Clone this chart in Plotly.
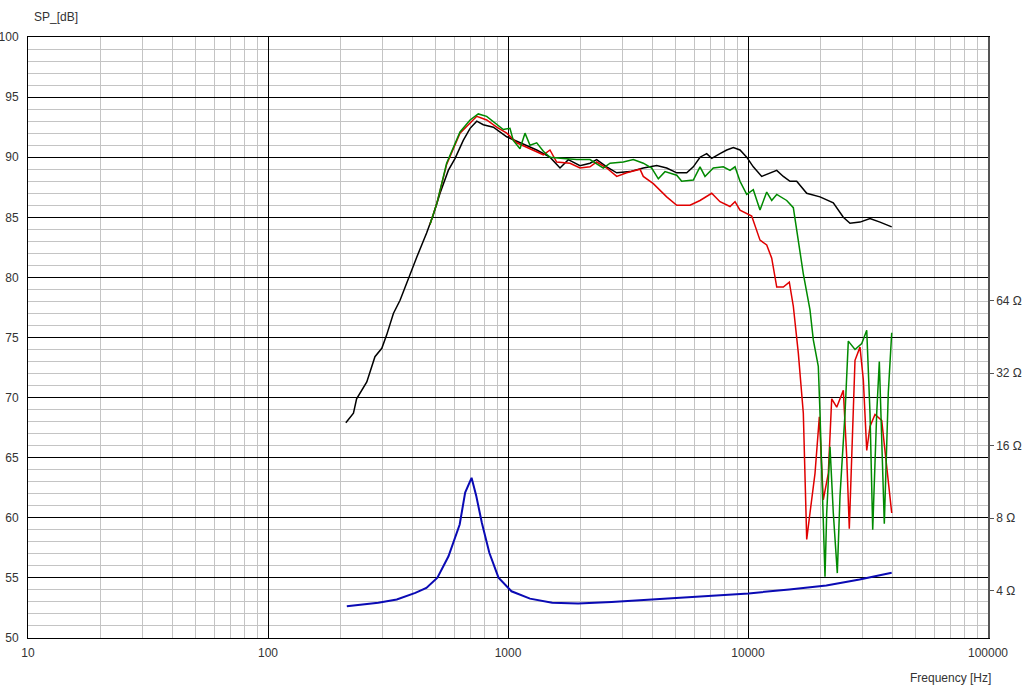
import plotly.graph_objects as go

# ---- data ----
black_f = [211, 227, 234, 258, 279, 298, 312, 333, 355, 384, 417, 458, 488, 521, 564, 602, 651, 695, 741, 789,
           869, 988, 1122, 1317, 1496, 1647, 1784, 1995, 2196, 2342, 2578, 2838, 3224, 3662, 4165, 4584, 5047,
           5554, 5918, 6310, 6728, 7060, 7643, 8153, 8687, 9261, 9876, 10522, 11404, 12353, 13174, 14034, 14962,
           15956, 17564, 19953, 22668, 24956, 26607, 29286, 32240, 35481, 39700]
black_db = [67.9, 68.7, 69.9, 71.3, 73.4, 74.1, 75.2, 77.0, 78.1, 79.9, 81.7, 83.7, 85.2, 87.0, 88.9, 89.9, 91.4,
            92.4, 93.0, 92.7, 92.5, 91.7, 91.2, 90.6, 90.0, 89.1, 89.8, 89.3, 89.5, 89.8, 89.2, 88.7, 88.8, 89.1,
            89.3, 89.1, 88.7, 88.7, 89.2, 90.0, 90.3, 89.9, 90.3, 90.6, 90.8, 90.6, 90.0, 89.2, 88.4, 88.7, 88.9,
            88.4, 88.0, 88.0, 87.0, 86.7, 86.2, 85.0, 84.5, 84.6, 84.9, 84.6, 84.2]

green_f = [473, 506, 555, 631, 695, 752, 815, 897, 956, 1019, 1052, 1122, 1177, 1235, 1317, 1404, 1496, 1700,
           1933, 2196, 2496, 2661, 3023, 3327, 3662, 3970, 4230, 4510, 5047, 5294, 5918, 6310, 6619, 7169, 7891,
           8414, 8829, 9261, 9876, 10522, 11220, 11966, 12555, 13174, 14499, 15446, 16206, 17002, 18126, 18714,
           19630, 19953, 20934, 21280, 21963, 22668, 23557, 24174, 25365, 26179, 27916, 29779, 31240, 32240,
           33083, 34380, 35250, 36070, 36980, 38420, 39700]
green_db = [84.4, 86.2, 89.5, 92.1, 93.1, 93.6, 93.4, 92.7, 92.3, 92.4, 91.4, 90.7, 92.0, 91.0, 91.2, 90.5, 90.0,
            89.9, 89.8, 89.8, 89.1, 89.5, 89.6, 89.8, 89.5, 89.1, 88.2, 88.8, 88.5, 88.0, 88.1, 89.2, 88.4, 89.1,
            89.2, 88.9, 89.2, 88.0, 86.9, 87.3, 85.6, 87.1, 86.4, 86.9, 86.4, 85.8, 83.1, 80.3, 77.3, 74.8, 72.6,
            68.7, 55.1, 60.4, 65.9, 60.4, 55.4, 61.8, 68.7, 74.7, 74.0, 74.5, 75.6, 68.7, 59.0, 68.7, 73.0, 65.4,
            59.5, 70.4, 75.4]

red_f = [473, 506, 555, 631, 741, 815, 897, 988, 1087, 1235, 1404, 1496, 1595, 1813, 1995, 2196, 2342, 2578,
         2838, 3123, 3548, 3662, 4031, 4584, 5047, 5733, 6310, 7060, 7643, 8414, 8829, 9261, 9876, 10361, 11220,
         11966, 12555, 13174, 14034, 14864, 15446, 16206, 17002, 17564, 18126, 19020, 19827, 20592, 21607,
         22325, 23421, 24956, 25780, 26430, 27916, 29286, 30230, 31240, 32240, 33820, 36070, 37840, 39700]
red_db = [84.4, 86.2, 89.4, 92.0, 93.4, 93.1, 92.5, 92.0, 91.2, 90.7, 90.2, 90.6, 89.6, 89.5, 89.1, 89.2, 89.6,
          89.1, 88.4, 88.7, 89.0, 88.4, 87.8, 86.7, 86.0, 86.0, 86.4, 87.0, 86.3, 85.9, 86.3, 85.6, 85.3, 85.1,
          83.1, 82.7, 81.6, 79.2, 79.2, 79.6, 77.6, 73.7, 68.7, 58.2, 60.4, 63.7, 68.4, 61.5, 63.7, 69.9, 69.2,
          70.6, 65.1, 59.1, 73.1, 74.2, 71.5, 65.6, 67.6, 68.6, 68.1, 64.3, 60.4]

imp_f = [213, 288, 344, 411, 457, 508, 565, 629, 663, 705, 738, 778, 836, 913, 1034, 1235, 1528, 1959, 2700,
         4437, 6335, 10048, 14864, 21200, 29170, 39700]
imp_ohm = [3.44, 3.56, 3.67, 3.91, 4.10, 4.52, 5.55, 7.52, 10.2, 11.75, 9.85, 7.64, 5.74, 4.52, 3.97, 3.70, 3.56,
           3.53, 3.58, 3.70, 3.77, 3.89, 4.04, 4.20, 4.44, 4.74]

x_tickvals = [10, 100, 1000, 10000, 100000]
x_ticktext = ["10", "100", "1000", "10000", "100000"]
y_tickvals = [50, 55, 60, 65, 70, 75, 80, 85, 90, 95, 100]
z_tickvals = [4, 8, 16, 32, 64]
z_ticktext = ["4 Ω", "8 Ω", "16 Ω", "32 Ω", "64 Ω"]

FONT = "Liberation Sans, Arial, sans-serif"
TXT = "#333333"

fig = go.Figure()
fig.add_trace(go.Scatter(x=black_f, y=black_db, mode="lines", line=dict(color="#000000", width=1.5),
                         showlegend=False, hoverinfo="skip"))
fig.add_trace(go.Scatter(x=red_f, y=red_db, mode="lines", line=dict(color="#e00000", width=1.5),
                         showlegend=False, hoverinfo="skip"))
fig.add_trace(go.Scatter(x=green_f, y=green_db, mode="lines", line=dict(color="#008a00", width=1.5),
                         showlegend=False, hoverinfo="skip"))
fig.add_trace(go.Scatter(x=imp_f, y=imp_ohm, mode="lines", line=dict(color="#0a0ab4", width=2),
                         yaxis="y2", showlegend=False, hoverinfo="skip"))

fig.update_layout(
    width=1024, height=689,
    margin=dict(l=28, r=36, t=37, b=51, autoexpand=False),
    paper_bgcolor="white", plot_bgcolor="white",
    font=dict(family=FONT, size=12, color=TXT),
    xaxis=dict(
        type="log", range=[1, 5], automargin=False,
        tickvals=x_tickvals, ticktext=x_ticktext,
        showgrid=True, gridcolor="#000000", gridwidth=1,
        minor=dict(dtick="D1", showgrid=True, gridcolor="#c4c4c4", gridwidth=1, ticks=""),
        showline=True, linecolor="#000000", linewidth=1, mirror=True,
        ticks="", zeroline=False, ticklabelstandoff=4,
        tickfont=dict(family=FONT, size=12, color=TXT),
    ),
    yaxis=dict(
        range=[50, 100], tickvals=y_tickvals, automargin=False,
        showgrid=True, gridcolor="#000000", gridwidth=1,
        minor=dict(dtick=1, showgrid=True, gridcolor="#c4c4c4", gridwidth=1, ticks=""),
        showline=True, linecolor="#000000", linewidth=1,
        ticks="", zeroline=False, ticklabelstandoff=6,
        tickfont=dict(family=FONT, size=12, color=TXT),
    ),
    yaxis2=dict(
        type="log", range=[0.4048, 2.9004], overlaying="y", side="right", automargin=False,
        tickvals=z_tickvals, ticktext=z_ticktext,
        showgrid=False, zeroline=False,
        showline=True, linecolor="#555555", linewidth=1.5,
        ticks="outside", ticklen=4, tickcolor="#555555",
        tickfont=dict(family=FONT, size=12, color=TXT),
    ),
    annotations=[
        dict(text="SP_[dB]", xref="paper", yref="paper", x=0.004, y=1.033, xanchor="left", yanchor="middle",
             showarrow=False, font=dict(family=FONT, size=12, color=TXT)),
        dict(text="Frequency [Hz]", xref="paper", yref="paper", x=1.005, y=-0.0666, xanchor="right",
             yanchor="middle", showarrow=False, font=dict(family=FONT, size=12, color=TXT)),
    ],
)

fig.write_html("out.html", config={"displayModeBar": False},
               post_script="document.body.style.margin='0';document.body.style.overflow='hidden';")
